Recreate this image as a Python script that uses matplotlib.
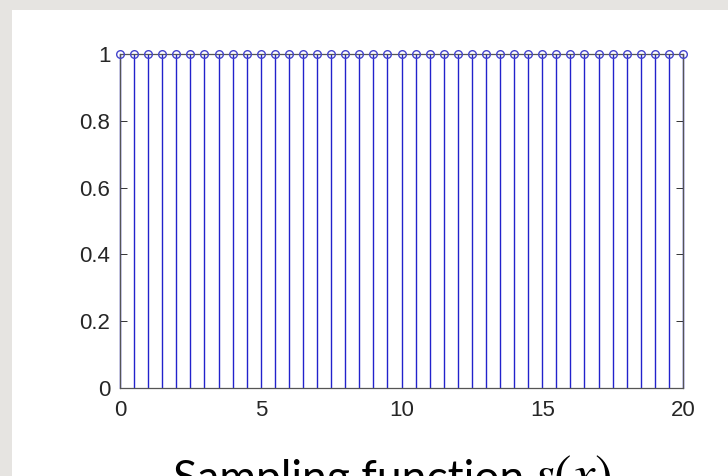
import numpy as np
import matplotlib
matplotlib.use("Agg")
import matplotlib.pyplot as plt

x_vals = [i * 0.5 for i in range(41)]
y_vals = [1.0] * 41
xticks = [0, 5, 10, 15, 20]
yticks = [0, 0.2, 0.4, 0.6, 0.8, 1]
ytick_labels = ["0", "0.2", "0.4", "0.6", "0.8", "1"]

plt.rcParams["mathtext.fontset"] = "stix"

fig = plt.figure(figsize=(7.28, 4.76), dpi=100)
fig.patch.set_facecolor("#e6e4e1")
# white slide area
fig.add_artist(plt.Rectangle((12/728, 0), 1 - 12/728, 1 - 10/476, transform=fig.transFigure,
                             facecolor="white", edgecolor="none", zorder=0))

L, R, T, B = 120, 683, 54, 388
ax = fig.add_axes([L/728, 1 - B/476, (R - L)/728, (B - T)/476])
ax.set_facecolor("none")
markerline, stemlines, baseline = ax.stem(x_vals, y_vals, basefmt=" ")
plt.setp(stemlines, color="#2222cc", linewidth=1.0)
plt.setp(markerline, marker="o", markersize=5.5, markerfacecolor="none",
         markeredgecolor="#4444cc", markeredgewidth=1.0, clip_on=False, zorder=5)
stemlines.set_clip_on(False)
ax.set_xlim(0, 20)
ax.set_ylim(0, 1)
ax.set_xticks(xticks)
ax.set_yticks(yticks)
ax.set_yticklabels(ytick_labels)
for s in ax.spines.values():
    s.set_color("#555555")
    s.set_linewidth(0.9)
ax.tick_params(direction="in", top=True, right=True, length=5, width=0.7, color="#333333",
               labelsize=16, labelcolor="#262626")
ax.tick_params(axis="x", pad=9)
ax.tick_params(axis="y", pad=7)
for lab in ax.get_xticklabels() + ax.get_yticklabels():
    lab.set_fontfamily("Liberation Sans")

fig.text(524/728, 1 - 492/476, "Sampling function", ha="right", va="baseline",
         fontsize=32, family="Lato", color="black")
fig.text(533/728, 1 - 492/476, r"$s(x)$", ha="left", va="baseline",
         fontsize=38, color="black")

fig.savefig("out.png", dpi=100)
